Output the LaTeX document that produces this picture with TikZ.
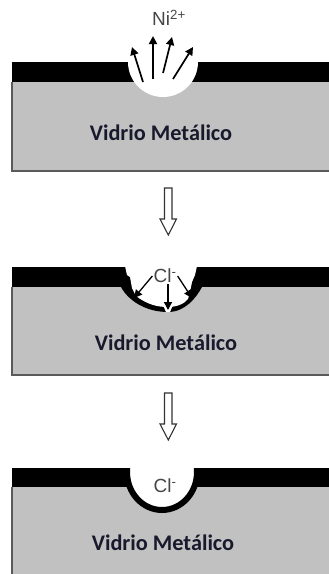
\documentclass[tikz,border=0pt]{standalone}
\usepackage{fontspec}
\setmainfont{Carlito}
\newfontfamily\ionfont{Liberation Sans}
\usetikzlibrary{arrows.meta}
\definecolor{metal}{RGB}{193,193,193}
\definecolor{rim}{RGB}{90,90,90}
\definecolor{ink}{RGB}{25,25,45}
\definecolor{iongray}{RGB}{70,70,70}
\begin{document}
\begin{tikzpicture}[x=1pt,y=-1pt,
  glass/.style={fill=metal},
  film/.style={fill=black},
  edge/.style={draw=rim,line width=1.5pt},
  tag/.style={font=\bfseries\fontsize{22.3}{26}\selectfont,text=ink},
  ion/.style={font=\ionfont\fontsize{19}{21}\selectfont,text=iongray,inner sep=1pt},
  flux/.style={-{Triangle[length=8pt,width=8pt]},line width=1.7pt},
  stage/.style={draw=black!80,fill=white,line width=1.1pt}]
\useasboundingbox (0,0) rectangle (329,574);

% dissolution of Ni
\fill[glass] (12,82) rectangle (329,171);
\draw[edge] (12,82) -- (12,171) -- (329,171);
\fill[film] (12,62) rectangle (329,82);
\begin{scope}
  \clip (0,62) rectangle (329,200);
  \fill[white] (163,62) circle[radius=35];
\end{scope}
\node[ion] (ni) at (169,18) {Ni\textsuperscript{2+}};
\foreach \i/\s/\t in {1/{143,82}/{132,47},2/{153,79}/{153,36},3/{163,73}/{172,37},4/{173,79}/{193,47}}{
  \coordinate (a\i) at (\s);
  \coordinate (b\i) at (\t);
  \draw[flux] (a\i) -- (b\i);
}
\node[tag] (vm1) at (161,133) {Vidrio Metálico};

% steps between the stages
\foreach \dy in {0,205}{
  \draw[stage] (164.5,188+\dy) -- (172,188+\dy) -- (172,219+\dy) -- (176.5,219+\dy)
    -- (168.3,235+\dy) -- (160,219+\dy) -- (164.5,219+\dy) -- cycle;
}

% attack by Cl
\fill[glass] (12,287) rectangle (329,375);
\draw[edge] (12,287) -- (12,375) -- (329,375);
\fill[film] (12,267) rectangle (329,287);
\fill[film] (121,267) -- (121,287) .. controls (128,300) and (145,312) .. (168,312)
  .. controls (185,312) and (196,298) .. (202,287) -- (202,267) -- cycle;
\fill[white] (125,266) -- (127,275) -- (130,277) -- (132,288) -- (136,296)
  .. controls (148,305) and (158,307) .. (168,307)
  .. controls (178,307) and (185,303) .. (188,299) -- (190,292) -- (192,282)
  -- (195,275) -- (197,266) -- cycle;
\fill[white] (163,305) -- (173,305) -- (170,312) -- (166,312) -- cycle;
\node[ion] (cl1) at (165,276) {Cl\textsuperscript{-}};
\coordinate (p1) at (134,298);
\coordinate (p2) at (168,310);
\coordinate (p3) at (192,298);
\draw[flux,line width=1.3pt] (cl1.west) -- (p1);
\draw[flux,line width=1.3pt] (cl1.south -| p2) -- (p2);
\draw[flux,line width=1.3pt] (cl1.east) -- (p3);
\node[tag] (vm2) at (166,343) {Vidrio Metálico};

% pit after attack
\fill[glass] (12,487) rectangle (329,574);
\draw[edge] (12,487) -- (12,575);
\fill[film] (12,468) rectangle (329,487);
\begin{scope}
  \clip (0,468) rectangle (329,574);
  \filldraw[fill=white,draw=black,line width=6pt] (162,472) ellipse[x radius=35,y radius=38];
\end{scope}
\node[ion] (cl2) at (165,486) {Cl\textsuperscript{-}};
\node[tag] (vm3) at (163,543) {Vidrio Metálico};
\end{tikzpicture}
\end{document}
